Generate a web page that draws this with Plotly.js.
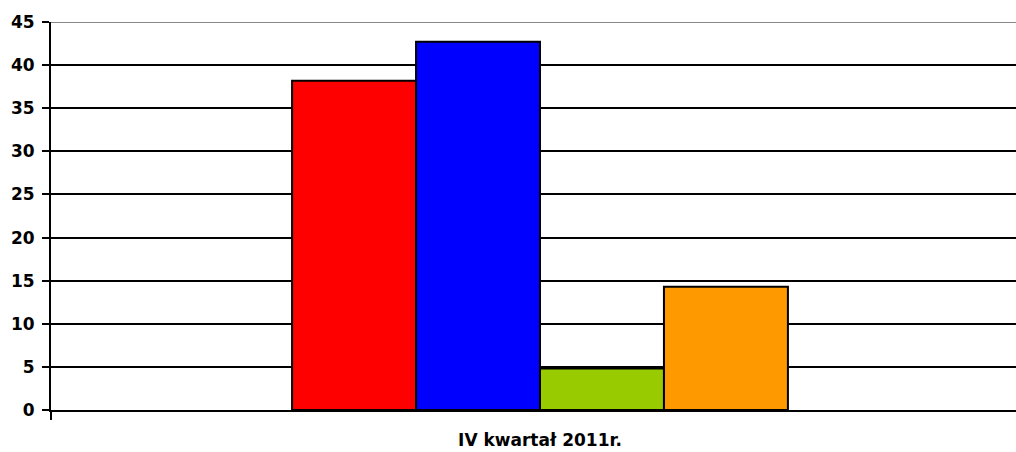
<!DOCTYPE html>
<html>
<head>
<meta charset="utf-8">
<script src="https://cdn.plot.ly/plotly-3.0.1.min.js"></script>
<style>
html,body{margin:0;padding:0;overflow:hidden;background:#fff;}
#chart{width:1030px;height:452px;}
</style>
</head>
<body>
<div id="chart"></div>
<script>
const categories = ['IV kwartał 2011r.'];
const seriesNames = ['Seria 1', 'Seria 2', 'Seria 3', 'Seria 4'];
const seriesValues = [[38.2], [42.7], [4.8], [14.3]];
const seriesColors = ['#FF0000', '#0000FF', '#99CC00', '#FF9900'];
const yTicks = [0, 5, 10, 15, 20, 25, 30, 35, 40, 45];

const traces = seriesNames.map((name, i) => ({
  type: 'bar',
  name: name,
  x: categories,
  y: seriesValues[i],
  marker: {color: seriesColors[i], line: {color: '#000', width: 2}},
  hoverinfo: 'y'
}));

const font = {family: 'DejaVu Sans, Arial, sans-serif', size: 17, color: '#000', weight: 700};

const layout = {
  width: 1030, height: 452,
  margin: {l: 51, r: 1, t: 22, b: 42},
  paper_bgcolor: '#fff', plot_bgcolor: '#fff',
  showlegend: false,
  barmode: 'group',
  bargap: 0.493,
  bargroupgap: 0,
  font: font,
  xaxis: {
    type: 'category',
    range: [-0.5, 0.5],
    showgrid: false,
    showline: true, linecolor: '#000', linewidth: 2,
    ticks: 'outside', tickson: 'boundaries', ticklen: 8, tickwidth: 2, tickcolor: '#000',
    tickfont: font,
    ticklabelstandoff: 14
  },
  yaxis: {
    range: [0, 45],
    tickvals: yTicks,
    showgrid: true, gridcolor: '#000', gridwidth: 2,
    zeroline: false,
    showline: true, linecolor: '#000', linewidth: 2,
    ticks: 'outside', ticklen: 7, tickwidth: 2, tickcolor: '#000',
    tickfont: font,
    ticklabelstandoff: 4
  },
  shapes: [{
    type: 'line', xref: 'paper', yref: 'y', x0: 0, x1: 1, y0: 45, y1: 45,
    line: {color: '#888', width: 2}, layer: 'above'
  }]
};

Plotly.newPlot('chart', traces, layout, {displayModeBar: false, staticPlot: true});
</script>
</body>
</html>
